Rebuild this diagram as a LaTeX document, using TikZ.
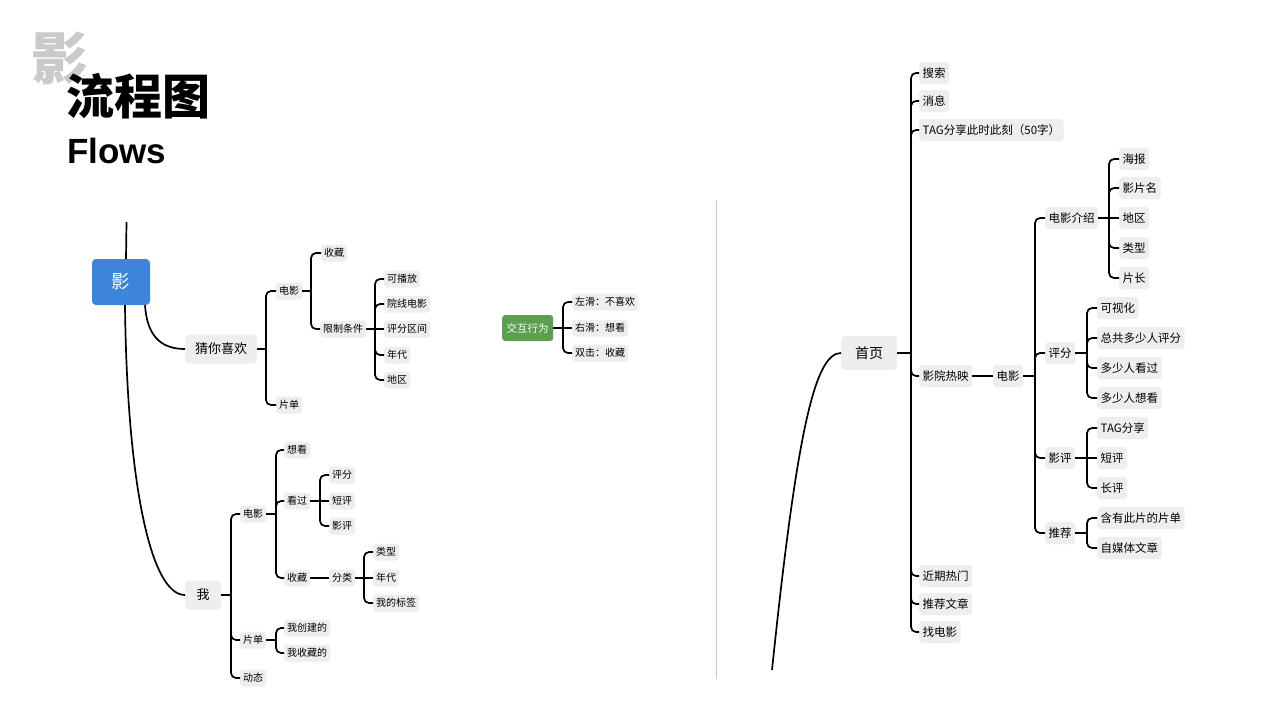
\documentclass[tikz,border=0pt]{standalone}
\usepackage{fontspec}
\setmainfont{Noto Sans CJK SC}
\newfontfamily\cjk{Noto Sans CJK SC}
\newfontfamily\helv{Liberation Sans}
\usetikzlibrary{calc}
\definecolor{boxgray}{HTML}{EEEEEE}
\definecolor{ybl}{HTML}{3D85DC}
\definecolor{ygr}{HTML}{5C9F4F}
\definecolor{tgray}{HTML}{CACACA}
\definecolor{divg}{HTML}{C8C8C8}
\begin{document}
\begin{tikzpicture}[x=1pt,y=-1pt,
  con/.style={line width=1.7pt, black},
  br/.style={con, rounded corners=5pt},
  sleaf/.style={fill=boxgray, rounded corners=3pt, inner xsep=3pt, inner ysep=0pt, minimum height=17pt, font=\fontsize{10}{12}\selectfont, anchor=west},
  rleaf/.style={fill=boxgray, rounded corners=3.5pt, inner xsep=3.5pt, inner ysep=0pt, minimum height=22pt, font=\fontsize{11.5}{13}\selectfont, anchor=west},
  topn/.style={fill=boxgray, rounded corners=4pt, inner xsep=10pt, inner ysep=0pt, minimum height=29pt, font=\fontsize{13}{15}\selectfont, anchor=west},
]
\useasboundingbox[fill=white] (0,0) rectangle (1280,720);

% title
\node[anchor=base west, inner sep=0pt, text=tgray, font=\fontsize{57}{60}\selectfont\bfseries] (tying) at (31,79) {影};
\node[anchor=base west, inner sep=0pt, font=\fontsize{48}{50}\selectfont\bfseries] (tflow) at (66,114) {流程图};
\node[anchor=base west, inner sep=0pt, font=\helv\bfseries\fontsize{35}{38}\selectfont] (tflows) at (67,163) {Flows};

% divider
\coordinate (dtop) at (716.5,200);
\coordinate (dbot) at (716.5,679);
\draw[divg, line width=1.2pt] (dtop) -- (dbot);

% ===== left map =====
\node[fill=ybl, rounded corners=4pt, minimum width=58pt, minimum height=46pt, text=white, font=\fontsize{18.5}{20}\selectfont, inner sep=0pt] (ying) at (121,282) {影};
\coordinate (ytop) at (126.5,222);
\draw[con] (ytop) -- ($(ying.north)+(5,0)$);

\node[topn] (cai) at (185,349) {猜你喜欢};
\node[topn, minimum width=36pt, inner xsep=0pt] (wo) at (185,595) {我};
\draw[con] ($(ying.south)+(4,0)$) .. controls (127,480) and (150,595) .. (wo.west);
\draw[con] ($(ying.south)+(24,0)$) .. controls (147,335) and (160,349) .. (cai.west);

% 猜你喜欢 branch
\node[sleaf] (cdy) at (276,291) {电影};
\node[sleaf] (cpd) at (276,405) {片单};
\coordinate (jcai) at (266,349);
\draw[con] (cai.east) -- (jcai);
\foreach \c in {cdy,cpd} \draw[br] (jcai) |- (\c.west);

\node[sleaf] (csc) at (321,253) {收藏};
\node[sleaf] (cxz) at (320,329) {限制条件};
\coordinate (jcdy) at (311,291);
\draw[con] (cdy.east) -- (jcdy);
\foreach \c in {csc,cxz} \draw[br] (jcdy) |- (\c.west);

\node[sleaf] (x1) at (384,279) {可播放};
\node[sleaf] (x2) at (384,304) {院线电影};
\node[sleaf] (x3) at (384,329) {评分区间};
\node[sleaf] (x4) at (384,355) {年代};
\node[sleaf] (x5) at (384,380) {地区};
\coordinate (jcxz) at (375,329);
\draw[con] (cxz.east) -- (jcxz);
\foreach \c in {x1,x2,x4,x5} \draw[br] (jcxz) |- (\c.west);
\draw[con] (jcxz) -- (x3.west);

% 我 branch
\node[sleaf] (wdy) at (240,514) {电影};
\node[sleaf] (wpd) at (240,640) {片单};
\node[sleaf] (wdt) at (240,678) {动态};
\coordinate (jwo) at (231,595);
\draw[con] (wo.east) -- (jwo);
\foreach \c in {wdy,wpd,wdt} \draw[br] (jwo) |- (\c.west);

\node[sleaf] (wxk) at (284,450) {想看};
\node[sleaf] (wkg) at (284,501) {看过};
\node[sleaf] (wsc) at (284,578) {收藏};
\coordinate (jwdy) at (276,514);
\draw[con] (wdy.east) -- (jwdy);
\foreach \c in {wxk,wkg,wsc} \draw[br] (jwdy) |- (\c.west);

\node[sleaf] (kp) at (329,475) {评分};
\node[sleaf] (kd) at (329,501) {短评};
\node[sleaf] (ky) at (329,526) {影评};
\coordinate (jwkg) at (320,501);
\draw[con] (wkg.east) -- (jwkg);
\foreach \c in {kp,ky} \draw[br] (jwkg) |- (\c.west);
\draw[con] (jwkg) -- (kd.west);

\node[sleaf] (wfl) at (329,578) {分类};
\draw[con] (wsc.east) -- (wfl.west);
\node[sleaf] (f1) at (373,552) {类型};
\node[sleaf] (f2) at (373,578) {年代};
\node[sleaf] (f3) at (373,603) {我的标签};
\coordinate (jwfl) at (364,578);
\draw[con] (wfl.east) -- (jwfl);
\foreach \c in {f1,f3} \draw[br] (jwfl) |- (\c.west);
\draw[con] (jwfl) -- (f2.west);

\node[sleaf] (p1) at (284,628) {我创建的};
\node[sleaf] (p2) at (284,653) {我收藏的};
\coordinate (jwpd) at (276,640);
\draw[con] (wpd.east) -- (jwpd);
\foreach \c in {p1,p2} \draw[br] (jwpd) |- (\c.west);

% 交互行为
\node[fill=ygr, rounded corners=3pt, minimum width=51pt, minimum height=26pt, inner sep=0pt, text=white, font=\fontsize{10.5}{12}\selectfont, anchor=west] (jh) at (502,328) {交互行为};
\node[sleaf] (h1) at (572,302) {左滑：不喜欢};
\node[sleaf] (h2) at (572,328) {右滑：想看};
\node[sleaf] (h3) at (572,353) {双击：收藏};
\coordinate (jjh) at (563,328);
\draw[con] (jh.east) -- (jjh);
\foreach \c in {h1,h3} \draw[br] (jjh) |- (\c.west);
\draw[con] (jjh) -- (h2.west);

% ===== right map =====
\node[topn, minimum width=56pt, minimum height=34pt, inner xsep=0pt, font=\fontsize{14}{16}\selectfont] (sy) at (841,353) {首页};
\coordinate (rbot) at (772,670);
\draw[con] (rbot) .. controls (797,430) and (815,353) .. (sy.west);

\node[rleaf] (s1) at (919,73) {搜索};
\node[rleaf] (s2) at (919,101) {消息};
\node[rleaf] (s3) at (919,130) {TAG分享此时此刻（50字）};
\node[rleaf] (s4) at (919,376) {影院热映};
\node[rleaf] (s5) at (919,576) {近期热门};
\node[rleaf] (s6) at (919,604) {推荐文章};
\node[rleaf] (s7) at (919,632) {找电影};
\coordinate (jsy) at (911,353);
\draw[con] (sy.east) -- (jsy);
\foreach \c in {s1,s2,s3,s4,s5,s6,s7} \draw[br] (jsy) |- (\c.west);

\node[rleaf] (rdy) at (993,376) {电影};
\draw[con] (s4.east) -- (rdy.west);

\node[rleaf] (r1) at (1045,218) {电影介绍};
\node[rleaf] (r2) at (1045,353) {评分};
\node[rleaf] (r3) at (1045,458) {影评};
\node[rleaf] (r4) at (1045,533) {推荐};
\coordinate (jrdy) at (1035,376);
\draw[con] (rdy.east) -- (jrdy);
\foreach \c in {r1,r2,r3,r4} \draw[br] (jrdy) |- (\c.west);

\node[rleaf] (a1) at (1119,159) {海报};
\node[rleaf] (a2) at (1119,188) {影片名};
\node[rleaf] (a3) at (1119,218) {地区};
\node[rleaf] (a4) at (1119,248) {类型};
\node[rleaf] (a5) at (1119,278) {片长};
\coordinate (jr1) at (1109,218);
\draw[con] (r1.east) -- (jr1);
\foreach \c in {a1,a2,a4,a5} \draw[br] (jr1) |- (\c.west);
\draw[con] (jr1) -- (a3.west);

\node[rleaf] (b1) at (1097,308) {可视化};
\node[rleaf] (b2) at (1097,338) {总共多少人评分};
\node[rleaf] (b3) at (1097,368) {多少人看过};
\node[rleaf] (b4) at (1097,398) {多少人想看};
\coordinate (jr2) at (1087,353);
\draw[con] (r2.east) -- (jr2);
\foreach \c in {b1,b2,b3,b4} \draw[br] (jr2) |- (\c.west);

\node[rleaf] (c1) at (1097,428) {TAG分享};
\node[rleaf] (c2) at (1097,458) {短评};
\node[rleaf] (c3) at (1097,488) {长评};
\coordinate (jr3) at (1087,458);
\draw[con] (r3.east) -- (jr3);
\foreach \c in {c1,c3} \draw[br] (jr3) |- (\c.west);
\draw[con] (jr3) -- (c2.west);

\node[rleaf] (d1) at (1097,518) {含有此片的片单};
\node[rleaf] (d2) at (1097,548) {自媒体文章};
\coordinate (jr4) at (1087,533);
\draw[con] (r4.east) -- (jr4);
\foreach \c in {d1,d2} \draw[br] (jr4) |- (\c.west);
\end{tikzpicture}
\end{document}
